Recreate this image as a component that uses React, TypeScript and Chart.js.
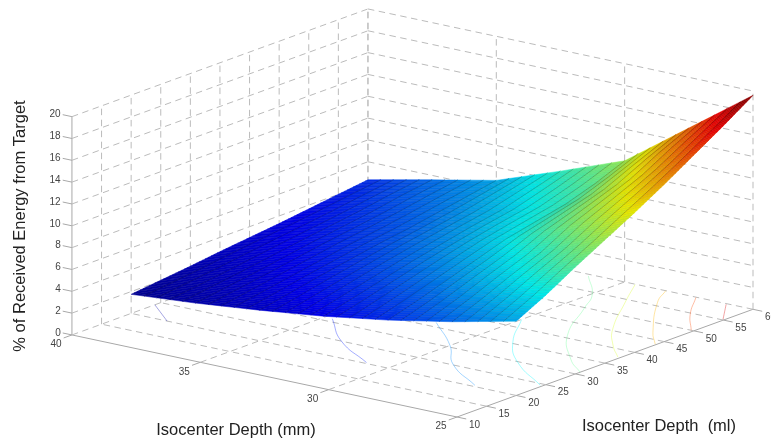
import React, { useEffect, useRef } from "react";
import Chart from "chart.js/auto";

// ---------- values ----------
const depthTicks = [25, 30, 35, 40];
const volumeTicks = [10, 15, 20, 25, 30, 35, 40, 45, 50, 55, 60];
const energyTicks = [0, 2, 4, 6, 8, 10, 12, 14, 16, 18, 20];

const depthKnots = [25, 27.5, 30, 32.5, 35, 37.5, 40];
const volumeKnots = [20, 25, 30, 35, 40, 45, 50, 55, 60];
const energyAtVolume20 = [6.8, 5.5, 4.4, 3.5, 2.8, 2.2, 1.75];
const energyAtVolume25 = [8.2, 6.6, 5.2, 4.2, 3.35, 2.6, 2.05];
const energyAtVolume30 = [9.8, 7.8, 6.1, 4.9, 3.9, 3.0, 2.35];
const energyAtVolume35 = [11.3, 8.9, 7.0, 5.6, 4.4, 3.45, 2.7];
const energyAtVolume40 = [12.8, 10.4, 7.9, 6.2, 4.9, 3.9, 3.0];
const energyAtVolume45 = [14.4, 11.5, 8.5, 6.8, 5.3, 4.3, 3.3];
const energyAtVolume50 = [16.1, 12.6, 9.1, 7.3, 5.8, 4.7, 3.65];
const energyAtVolume55 = [17.8, 14.1, 10.0, 8.1, 6.3, 5.2, 4.0];
const energyAtVolume60 = [19.6, 15.35, 11.1, 8.9, 6.8, 5.6, 4.35];
const energyRows = [
  energyAtVolume20, energyAtVolume25, energyAtVolume30, energyAtVolume35, energyAtVolume40,
  energyAtVolume45, energyAtVolume50, energyAtVolume55, energyAtVolume60,
];

// floor contours: [depth, volume] per level
const contour2 = [[38.6, 20], [40, 24]];
const contour4 = [[30.9, 20.3], [33, 25.1], [34.7, 31]];
const contour6 = [[26.7, 20.4], [28.66, 25.2], [30, 30.5], [31.9, 36.4]];
const contour8 = [[25.1, 24.5], [27.2, 29.8], [28.66, 35.3], [30, 42.6]];
const contour10 = [[25, 30.8], [26.1, 34], [27.8, 40.8], [29.25, 50], [29.95, 54.3], [31.3, 59.5]];
const contour12 = [[25.1, 37.6], [26, 40.7], [27.1, 45.4], [28.6, 54], [29.57, 59.9]];
const contour14 = [[25.05, 43.7], [25.9, 47], [27.8, 56], [28.4, 60]];
const contour16 = [[25.1, 50], [26.2, 54.6], [27.2, 59.9]];
const contour18 = [[25.06, 55.2], [26, 59.8]];
const contourLevels = [2, 4, 6, 8, 10, 12, 14, 16, 18];
const contourPaths = [contour2, contour4, contour6, contour8, contour10, contour12, contour14, contour16, contour18];

const zTitle = "% of Received Energy from Target";
const depthTitle = "Isocenter Depth (mm)";
const volumeTitle = "Isocenter Depth  (ml)";

// ---------- view and style ----------
const VIEW = {
  ox: 457, oy: 417,
  dx: -25.67, dy: -5.47,
  vx: 5.92, vy: -2.154,
  zy: -10.915,
};
const COLOR_MIN = 1.2;
const COLOR_MAX = 19.6;
const FACE_SHADE = 0.92;
const MESH_DEPTH_CELLS = 30;
const MESH_VOLUME_CELLS = 80;
const GRID = "#bbbbbb";
const AXIS = "#a8a8a8";
const DASH = [6.5, 4.5];

function project(d: number, v: number, z: number) {
  return {
    x: VIEW.ox + (d - 25) * VIEW.dx + (v - 10) * VIEW.vx,
    y: VIEW.oy + (d - 25) * VIEW.dy + (v - 10) * VIEW.vy + z * VIEW.zy,
  };
}

function jet(t: number): [number, number, number] {
  const c = (x: number) => Math.max(0, Math.min(1, x));
  const v = Math.max(0, Math.min(1, t));
  return [
    Math.round(255 * c(Math.min(4 * v - 1.5, 4.5 - 4 * v))),
    Math.round(255 * c(Math.min(4 * v - 0.5, 3.5 - 4 * v))),
    Math.round(255 * c(Math.min(4 * v + 0.5, 2.5 - 4 * v))),
  ];
}
const colorOf = (z: number) => jet((z - COLOR_MIN) / (COLOR_MAX - COLOR_MIN));

function knotSpan(knots: number[], value: number) {
  let i = 0;
  while (i < knots.length - 2 && value > knots[i + 1]) i++;
  return { i, f: (value - knots[i]) / (knots[i + 1] - knots[i]) };
}
// shading of one mesh vertex inside a cell of the table read above
function energyAt(d: number, v: number) {
  const a = knotSpan(depthKnots, d);
  const b = knotSpan(volumeKnots, v);
  const r0 = energyRows[b.i], r1 = energyRows[b.i + 1];
  const z0 = r0[a.i] + (r0[a.i + 1] - r0[a.i]) * a.f;
  const z1 = r1[a.i] + (r1[a.i + 1] - r1[a.i]) * a.f;
  return z0 + (z1 - z0) * b.f;
}

function line(points: { x: number; y: number }[], color: string, width: number, dash: number[] = []) {
  return {
    data: points, showLine: true, pointRadius: 0, borderColor: color, borderWidth: width,
    borderDash: dash, fill: false, tension: 0, borderCapStyle: "butt",
  };
}

const dMin = depthKnots[0], dMax = depthKnots[depthKnots.length - 1];
const vMin = volumeKnots[0], vMax = volumeKnots[volumeKnots.length - 1];
const dAt = (i: number) => dMin + ((dMax - dMin) * i) / MESH_DEPTH_CELLS;
const vAt = (j: number) => vMin + ((vMax - vMin) * j) / MESH_VOLUME_CELLS;
const surfacePoint = (i: number, j: number) => {
  const d = dAt(i), v = vAt(j);
  return project(d, v, energyAt(d, v));
};

function meshLineDatasets() {
  const out: any[] = [];
  for (let i = 1; i < MESH_DEPTH_CELLS; i++) {
    const pts = [];
    for (let j = 0; j <= MESH_VOLUME_CELLS; j += 2) pts.push(surfacePoint(i, j));
    out.push(line(pts, "rgba(0,0,0,0.3)", 0.7));
  }
  for (let j = 1; j < MESH_VOLUME_CELLS; j++) {
    const pts = [];
    for (let i = 0; i <= MESH_DEPTH_CELLS; i++) pts.push(surfacePoint(i, j));
    out.push(line(pts, "rgba(0,0,0,0.14)", 0.5));
  }
  return out;
}

function surfaceDatasets() {
  const out: any[] = [];
  for (let i = 0; i < MESH_DEPTH_CELLS; i++) {
    for (let j = 0; j < MESH_VOLUME_CELLS; j++) {
      const c = [[i, j], [i + 1, j], [i + 1, j + 1], [i, j + 1], [i, j]].map(([a, b]) => surfacePoint(a, b));
      const z =
        (energyAt(dAt(i), vAt(j)) + energyAt(dAt(i + 1), vAt(j)) + energyAt(dAt(i + 1), vAt(j + 1)) + energyAt(dAt(i), vAt(j + 1))) / 4;
      const [r, g, b] = colorOf(z);
      const fill = `rgb(${r * FACE_SHADE},${g * FACE_SHADE},${b * FACE_SHADE})`;
      out.push({
        data: c, showLine: true, pointRadius: 0,
        borderWidth: 0.5, borderColor: fill,
        backgroundColor: fill, fill: "shape", tension: 0,
      });
    }
  }
  return out;
}

function contourDatasets() {
  return contourPaths.map((path, i) => {
    const [r, g, b] = colorOf(contourLevels[i]);
    const ds = line(path.map(([d, v]) => project(d, v, 0)), `rgba(${r},${g},${b},0.36)`, 1);
    ds.tension = 0.5;
    return ds;
  });
}

function gridDatasets() {
  const out: any[] = [];
  const dEnd = depthTicks[depthTicks.length - 1], dStart = depthTicks[0];
  const vEnd = volumeTicks[volumeTicks.length - 1], vStart = volumeTicks[0];
  const zEnd = energyTicks[energyTicks.length - 1];
  for (const v of volumeTicks) {
    if (v !== vStart) out.push(line([project(dStart, v, 0), project(dEnd, v, 0)], GRID, 1, DASH));
    if (v !== vStart) out.push(line([project(dEnd, v, 0), project(dEnd, v, zEnd)], GRID, 1, DASH));
  }
  for (const d of depthTicks) {
    if (d !== dStart) out.push(line([project(d, vStart, 0), project(d, vEnd, 0)], GRID, 1, DASH));
    out.push(line([project(d, vEnd, 0), project(d, vEnd, zEnd)], GRID, 1, DASH));
  }
  for (const z of energyTicks) {
    if (z === 0) continue;
    out.push(line([project(dEnd, vStart, z), project(dEnd, vEnd, z)], GRID, 1, DASH));
    out.push(line([project(dEnd, vEnd, z), project(dStart, vEnd, z)], GRID, 1, DASH));
  }
  // solid axes and tick marks
  out.push(line([project(dEnd, vStart, 0), project(dStart, vStart, 0)], AXIS, 1));
  out.push(line([project(dStart, vStart, 0), project(dStart, vEnd, 0)], AXIS, 1));
  out.push(line([project(dEnd, vStart, 0), project(dEnd, vStart, zEnd)], AXIS, 1));
  for (const z of energyTicks) out.push(line([project(dEnd, vStart, z), project(dEnd + 0.36, vStart, z)], AXIS, 1));
  for (const d of depthTicks) out.push(line([project(d, vStart, 0), project(d, vStart - 1.4, 0)], AXIS, 1));
  for (const v of volumeTicks) out.push(line([project(dStart, v, 0), project(dStart - 0.36, v, 0)], AXIS, 1));
  return out;
}

const textPlugin = {
  id: "axisText",
  afterDatasetsDraw(chart: any) {
    const { ctx, scales } = chart;
    const px = (p: { x: number; y: number }) => ({ x: scales.x.getPixelForValue(p.x), y: scales.y.getPixelForValue(p.y) });
    ctx.save();
    ctx.textAlign = "center";
    ctx.textBaseline = "middle";
    ctx.fillStyle = "#444";
    ctx.font = '10px "Liberation Sans"';
    for (const z of energyTicks) {
      const p = px(project(40, 10, z));
      ctx.fillText(String(z), z < 10 ? p.x - 14 : p.x - 17, p.y - 2);
    }
    for (const d of depthTicks) {
      const p = px(project(d, 10, 0));
      ctx.fillText(String(d), p.x - 16, p.y + 9.5);
    }
    for (const v of volumeTicks) {
      const p = px(project(25, v, 0));
      ctx.fillText(String(v), p.x + 17.5, p.y + 8);
    }
    ctx.fillStyle = "#222";
    ctx.font = '16.5px "Liberation Sans"';
    ctx.fillText(depthTitle, 236, 430);
    ctx.fillText(volumeTitle, 659, 426);
    ctx.translate(20.5, 226);
    ctx.rotate(-Math.PI / 2);
    ctx.fillText(zTitle, 0, 0);
    ctx.restore();
  },
};

export default function App() {
  const ref = useRef<HTMLCanvasElement>(null);
  useEffect(() => {
    document.body.style.margin = "0";
    document.body.style.background = "#fff";
    const chart = new Chart(ref.current!, {
      type: "scatter",
      data: { datasets: [...meshLineDatasets(), ...surfaceDatasets(), ...contourDatasets(), ...gridDatasets()] as any },
      options: {
        responsive: false,
        animation: false,
        events: [],
        layout: { padding: 0 },
        plugins: { legend: { display: false }, tooltip: { enabled: false }, title: { display: false } },
        scales: {
          x: { type: "linear", display: false, min: 0, max: 771 },
          y: { type: "linear", display: false, min: 0, max: 445, reverse: true },
        },
      },
      plugins: [textPlugin],
    } as any);
    return () => chart.destroy();
  }, []);
  return (
    <canvas
      ref={ref}
      width={771}
      height={445}
      style={{ display: "block", width: 771, height: 445, filter: "blur(0.45px)" }}
    />
  );
}
